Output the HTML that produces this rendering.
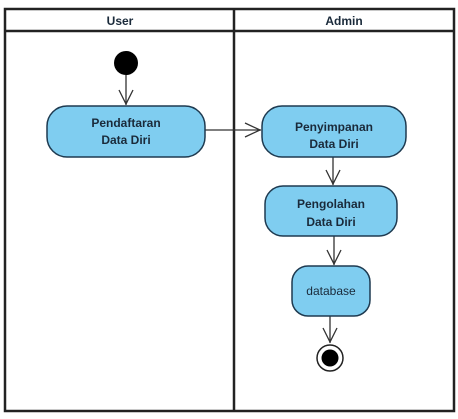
<!DOCTYPE html><html><head><style>body{margin:0;background:#fff}svg{display:block}text{font-family:"Liberation Sans",sans-serif;font-size:12px;fill:#1a2a3a;text-anchor:middle;font-weight:bold}</style></head><body>
<svg width="458" height="419" viewBox="0 0 458 419">
<rect x="5" y="9" width="449" height="402" fill="#fff" stroke="#222" stroke-width="2.5"/>
<line x1="5" y1="31" x2="454" y2="31" stroke="#222" stroke-width="2.5"/>
<line x1="234" y1="9" x2="234" y2="411" stroke="#222" stroke-width="2.5"/>
<text x="120" y="25">User</text>
<text x="344" y="25">Admin</text>
<circle cx="126" cy="63" r="12" fill="#000"/>
<g stroke="#333" stroke-width="1.3" fill="none">
<line x1="126" y1="75" x2="126" y2="105"/><path d="M119 90 L126 104 L133 90"/>
<line x1="205" y1="130" x2="261" y2="130"/><path d="M245 123 L260 130 L245 137"/>
<line x1="333" y1="157" x2="333" y2="185"/><path d="M326 170 L333 184 L340 170"/>
<line x1="334" y1="236" x2="334" y2="265"/><path d="M327 250 L334 264 L341 250"/>
<line x1="330" y1="316" x2="330" y2="343"/><path d="M323 328 L330 342 L337 328"/>
</g>
<g fill="#7fcdf0" stroke="#1e3a50" stroke-width="1.5">
<rect x="47" y="106" width="158" height="51" rx="20"/>
<rect x="262" y="106" width="144" height="51" rx="20"/>
<rect x="265" y="186" width="132" height="50" rx="18"/>
<rect x="292" y="266" width="78" height="50" rx="16"/>
</g>
<text x="126" y="127">Pendaftaran</text><text x="126" y="144">Data Diri</text>
<text x="334" y="131">Penyimpanan</text><text x="334" y="148">Data Diri</text>
<text x="331" y="208">Pengolahan</text><text x="331" y="226">Data Diri</text>
<text x="331" y="295" font-size="11" style="font-weight:normal">database</text>
<circle cx="330" cy="358" r="13" fill="#fff" stroke="#222" stroke-width="1.5"/>
<circle cx="330" cy="358" r="8.5" fill="#000"/>
</svg></body></html>
